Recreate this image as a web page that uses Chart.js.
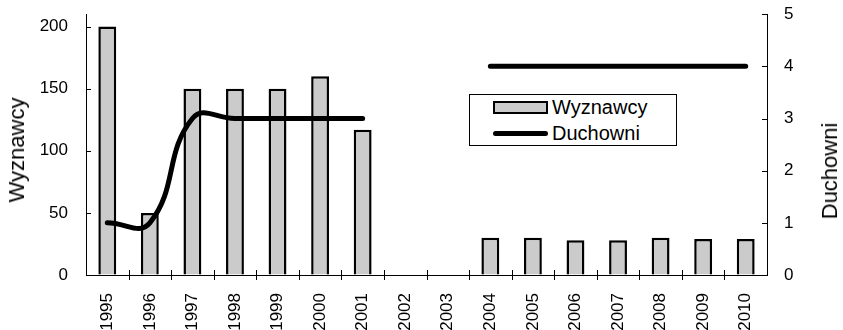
<!DOCTYPE html>
<html>
<head>
<meta charset="utf-8">
<script src="https://cdn.jsdelivr.net/npm/chart.js@4"></script>
<style>
  body { margin: 0; background: #fff; }
  #wrap { position: relative; width: 843px; height: 330px; font-family: "Liberation Sans", Arial, sans-serif; color: #000; }
  #legend {
    position: absolute; left: 469px; top: 94px; width: 206px; height: 50px;
    border: 1px solid #000; background: #fff; font-size: 20px;
  }
  .item { position: absolute; left: 23px; height: 22px; line-height: 22px; }
  .item span { position: absolute; left: 59px; white-space: nowrap; }
  .sw-bar { position: absolute; left: 0; top: 5px; width: 51px; height: 9px; background: #cbcbcb; border: 2px solid #000; }
  .sw-line { position: absolute; left: 0; top: 9px; width: 55px; height: 5px; background: #000; border-radius: 3px; }
  .ytitle { position: absolute; font-size: 22px; white-space: nowrap; transform: translate(-50%, -50%) rotate(-90deg); }
</style>
</head>
<body>
<div id="wrap">
  <canvas id="chart" width="843" height="330"></canvas>
  <div class="ytitle" style="left:17px; top:150px">Wyznawcy</div>
  <div class="ytitle" style="left:830px; top:171px">Duchowni</div>
  <div id="legend">
    <div class="item" style="top:1px"><div class="sw-bar"></div><span>Wyznawcy</span></div>
    <div class="item" style="top:27px"><div class="sw-line"></div><span>Duchowni</span></div>
  </div>
</div>
<script>
// lata
const years = ['1995','1996','1997','1998','1999','2000','2001','2002','2003','2004','2005','2006','2007','2008','2009','2010'];
// liczba wyznawców (lewa oś)
const wyznawcy = [200, 50, 150, 150, 150, 160, 117, null, null, 30, 30, 28, 28, 30, 29, 29];
// liczba duchownych (prawa oś)
const duchowni = [1, 1, 3, 3, 3, 3, 3, null, null, 4, 4, 4, 4, 4, 4, 4];
const leftTicks = [0, 50, 100, 150, 200];
const rightTicks = [0, 1, 2, 3, 4, 5];

const font = "'Liberation Sans', Arial, sans-serif";
const hidden = 'rgba(0,0,0,0)';

// kreski podziałki: do środka na osiach Y, przecinające oś X
const tickMarks = {
    id: 'tickMarks',
    afterDraw(chart) {
        const c = chart.ctx, a = chart.chartArea;
        const { x, y, y2 } = chart.scales;
        c.save();
        c.strokeStyle = '#000';
        c.lineWidth = 1;
        c.beginPath();
        leftTicks.forEach(v => {
            const py = Math.round(y.getPixelForValue(v)) + 0.5;
            c.moveTo(a.left, py); c.lineTo(a.left + 5, py);
        });
        rightTicks.forEach(v => {
            const py = Math.round(y2.getPixelForValue(v)) + 0.5;
            c.moveTo(a.right - 5, py); c.lineTo(a.right, py);
        });
        for (let i = 1; i < years.length; i++) {
            const px = Math.round((x.getPixelForTick(i - 1) + x.getPixelForTick(i)) / 2) + 0.5;
            c.moveTo(px, a.bottom - 5); c.lineTo(px, a.bottom + 5);
        }
        c.stroke();
        c.restore();
    }
};

const ctx = document.getElementById('chart').getContext('2d');
new Chart(ctx, {
    type: 'bar',
    data: {
        labels: years,
        datasets: [{
            type: 'line',
            label: 'Duchowni',
            data: duchowni,
            yAxisID: 'y2',
            borderColor: '#000',
            borderWidth: 5,
            pointRadius: 0,
            tension: 0.45,
            spanGaps: false,
            borderCapStyle: 'round',
            order: 0
        }, {
            label: 'Wyznawcy',
            data: wyznawcy,
            yAxisID: 'y',
            backgroundColor: '#cbcbcb',
            borderColor: '#000',
            borderWidth: 2.5,
            barPercentage: 0.42,
            categoryPercentage: 1,
            order: 1
        }]
    },
    options: {
        responsive: false,
        animation: false,
        layout: { padding: { top: 14, left: 0, right: 0, bottom: 0 } },
        plugins: { legend: { display: false }, tooltip: { enabled: false } },
        scales: {
            x: {
                offset: true,
                grid: { display: true, drawOnChartArea: false, tickLength: 12, tickColor: hidden, offset: true },
                border: { color: '#000', width: 1 },
                ticks: { color: '#000', font: { family: font, size: 17 }, minRotation: 90, maxRotation: 90, padding: 6 },
                afterFit: s => { s.height = 55; }
            },
            y: {
                position: 'left',
                min: 0, max: 210,
                afterBuildTicks: s => { s.ticks = leftTicks.map(v => ({ value: v })); },
                grid: { drawOnChartArea: false, tickLength: 14, tickColor: hidden },
                border: { color: '#000', width: 1 },
                ticks: { color: '#000', font: { family: font, size: 17 }, padding: 4 },
                afterFit: s => { s.width = 86; }
            },
            y2: {
                position: 'right',
                min: 0, max: 5,
                afterBuildTicks: s => { s.ticks = rightTicks.map(v => ({ value: v })); },
                grid: { drawOnChartArea: false, tickLength: 13, tickColor: hidden },
                border: { color: '#000', width: 1 },
                ticks: { color: '#000', font: { family: font, size: 17 }, padding: 4 },
                afterFit: s => { s.width = 76; }
            }
        }
    },
    plugins: [tickMarks]
});
</script>
</body>
</html>
